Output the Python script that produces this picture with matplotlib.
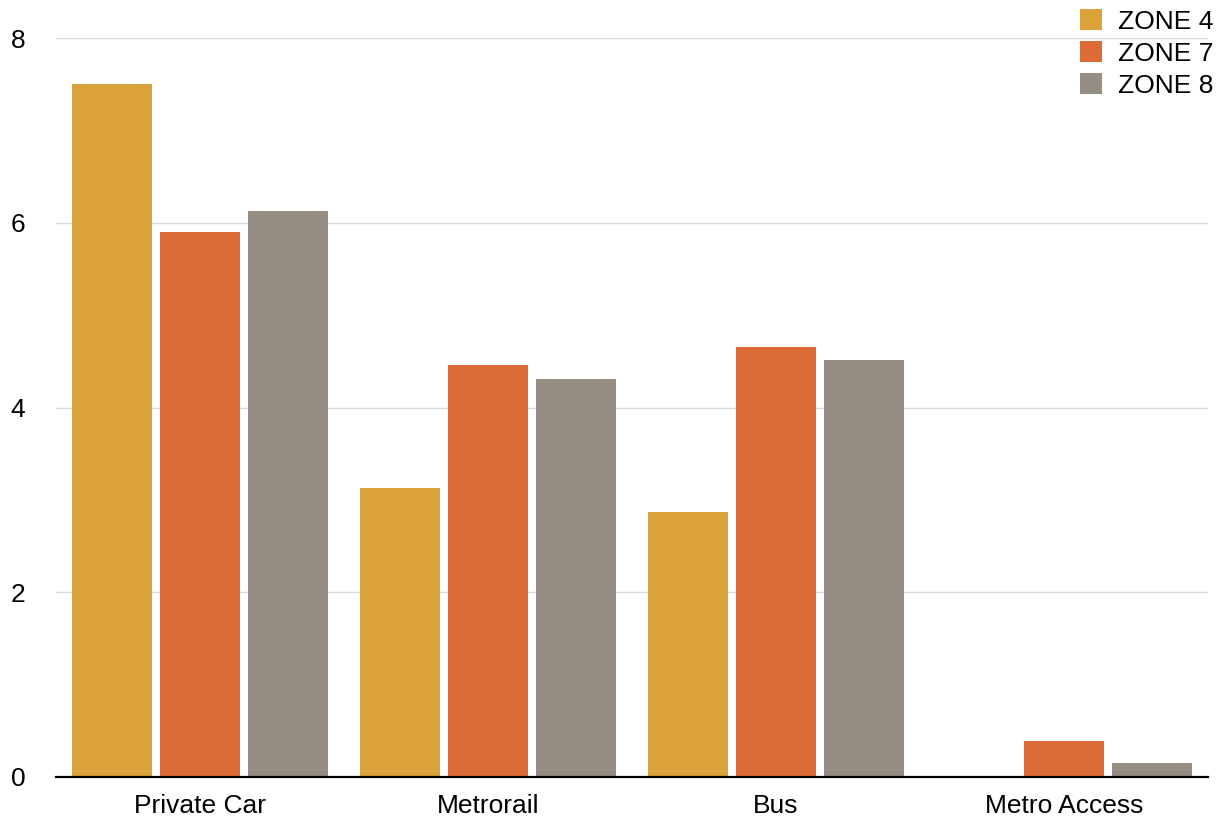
import matplotlib
matplotlib.use("Agg")
import matplotlib.pyplot as plt
import numpy as np

categories = ["Private Car", "Metrorail", "Bus", "Metro Access"]
series_names = ["ZONE 4", "ZONE 7", "ZONE 8"]
zone4 = [7.5, 3.13, 2.87, 0.0]
zone7 = [5.9, 4.46, 4.65, 0.39]
zone8 = [6.13, 4.31, 4.51, 0.15]
yticks = [0, 2, 4, 6, 8]

colors = ["#DCA33A", "#DD6B36", "#968D83"]

plt.rcParams['font.family'] = ['Liberation Sans', 'DejaVu Sans']
FS = 19

fig = plt.figure(figsize=(12.21, 8.18), dpi=100)
ax = fig.add_axes([56/1221, 1-777/818, (1208-56)/1221, (777-38)/818])

x = np.arange(len(categories))
width = 80/288
step = 88/288
handles = []
for i, (vals, name, c) in enumerate(zip([zone4, zone7, zone8], series_names, colors)):
    b = ax.bar(x + (i-1)*step, vals, width, color=c, label=name, zorder=3)
    handles.append(b)

ax.set_xlim(-0.5, len(categories)-0.5)
ax.set_ylim(0, 8)
ax.set_yticks(yticks)
ax.set_yticklabels([str(t) for t in yticks], fontsize=FS)
ax.set_xticks(x)
ax.set_xticklabels(categories, fontsize=FS)
ax.tick_params(axis='y', length=0, pad=22)
ax.tick_params(axis='x', length=0, pad=12.5)
for lab in ax.get_yticklabels():
    lab.set_horizontalalignment('right')
ax.yaxis.grid(True, color='#d9d9d9', linewidth=1.0, zorder=0)
for s in ['top', 'right', 'left']:
    ax.spines[s].set_visible(False)
ax.spines['bottom'].set_color('black')
ax.spines['bottom'].set_linewidth(1.6)
ax.spines['bottom'].set_zorder(4)

leg = fig.legend(handles=handles, labels=series_names, loc='upper right',
                 bbox_to_anchor=(1214/1221, 1-9/818), frameon=False,
                 fontsize=FS, handlelength=0.85, handleheight=0.85,
                 labelspacing=0.28, handletextpad=0.62, borderaxespad=0,
                 borderpad=0)

fig.savefig("out.png", dpi=100)
